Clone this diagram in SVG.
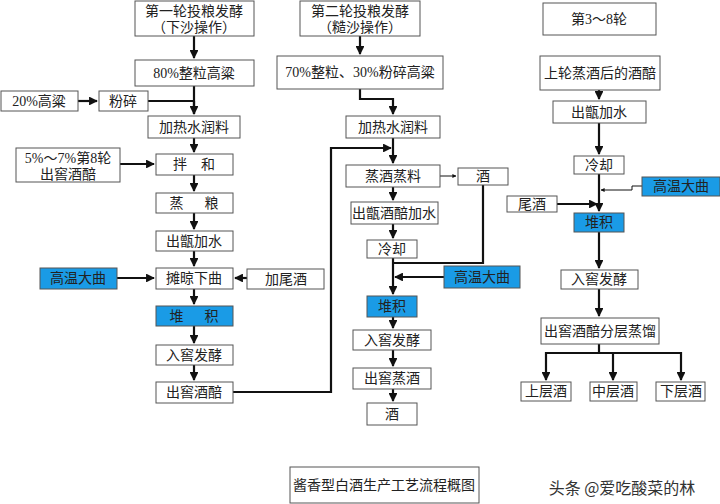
<svg xmlns="http://www.w3.org/2000/svg" width="720" height="504" viewBox="0 0 720 504">
<defs>
<style>
.b rect{fill:#fff;stroke:#555;stroke-width:1}
.q rect{fill:#1a9be6;stroke:#555;stroke-width:1}
text{font-family:"Liberation Serif","Noto Sans CJK SC",serif;font-size:14px;fill:#222;text-anchor:middle;dominant-baseline:central}
.c path{fill:none;stroke:#111;stroke-width:2.2}
.c .t{stroke-width:1}
</style>
<marker id="a" viewBox="0 0 10 10" refX="9" refY="5" markerWidth="4" markerHeight="4" orient="auto"><path d="M0,0L10,5L0,10z" fill="#111"/></marker>
</defs>
<g class="c">
<path d="M194,36V58" marker-end="url(#a)"/>
<path d="M78,101H97" marker-end="url(#a)"/>
<path d="M194,86V114"/><path d="M148,101H194"/>
<path d="M194,101V114" marker-end="url(#a)"/>
<path d="M194,138V152" marker-end="url(#a)"/>
<path d="M120,164H154" marker-end="url(#a)"/>
<path d="M194,175V191" marker-end="url(#a)"/>
<path d="M194,213V229" marker-end="url(#a)"/>
<path d="M194,251V266" marker-end="url(#a)"/>
<path d="M117,278H154" marker-end="url(#a)"/>
<path d="M247,278H235" marker-end="url(#a)"/>
<path d="M194,289V304" marker-end="url(#a)"/>
<path d="M194,326V343" marker-end="url(#a)"/>
<path d="M194,365V380" marker-end="url(#a)"/>
<path d="M233,392H331V148H391" marker-end="url(#a)"/>
<path d="M360,36V54" marker-end="url(#a)"/>
<path d="M360,89V99H393V114" marker-end="url(#a)"/>
<path d="M393,138V163" marker-end="url(#a)"/>
<path class="t" d="M440,176H456" marker-end="url(#a)"/>
<path d="M393,187V200" marker-end="url(#a)"/>
<path d="M393,224V238" marker-end="url(#a)"/>
<path d="M483,185V263H393"/>
<path d="M393,258V294" marker-end="url(#a)"/>
<path d="M444,277H395" marker-end="url(#a)"/>
<path d="M393,317V328" marker-end="url(#a)"/>
<path d="M393,350V366" marker-end="url(#a)"/>
<path d="M393,389V401" marker-end="url(#a)"/>
<path d="M599,90V99" marker-end="url(#a)"/>
<path d="M599,123V154" marker-end="url(#a)"/>
<path d="M599,174V211" marker-end="url(#a)"/>
<path class="t" d="M642,186H632V190H601" marker-end="url(#a)"/>
<path d="M557,204H597" marker-end="url(#a)"/>
<path d="M599,232V268" marker-end="url(#a)"/>
<path d="M599,289V316" marker-end="url(#a)"/>
<path d="M599,344V353"/>
<path d="M546,353H681"/>
<path d="M546,352V380" marker-end="url(#a)"/>
<path d="M613,353V380" marker-end="url(#a)"/>
<path d="M681,352V380" marker-end="url(#a)"/>
</g>
<g id="n1" class="b"><rect x="135" y="1" width="119" height="35"/><text x="194" y="11">第一轮投粮发酵</text><text x="194" y="27">（下沙操作）</text></g>
<g id="n2" class="b"><rect x="135" y="60" width="119" height="26"/><text x="194" y="73">80%整粒高粱</text></g>
<g id="n3" class="b"><rect x="1" y="91" width="77" height="20"/><text x="39" y="101">20%高粱</text></g>
<g id="n4" class="b"><rect x="99" y="91" width="49" height="20"/><text x="123" y="101">粉碎</text></g>
<g id="n5" class="b"><rect x="148" y="116" width="92" height="22"/><text x="194" y="127">加热水润料</text></g>
<g id="n6" class="b"><rect x="16" y="148" width="104" height="34"/><text x="68" y="158">5%～7%第8轮</text><text x="68" y="174">出窖酒醅</text></g>
<g id="n7" class="b"><rect x="156" y="154" width="77" height="21"/><text x="194" y="164.5" xml:space="preserve">拌    和</text></g>
<g id="n8" class="b"><rect x="156" y="193" width="77" height="20"/><text x="194" y="203" xml:space="preserve">蒸      粮</text></g>
<g id="n9" class="b"><rect x="156" y="231" width="77" height="20"/><text x="194" y="241">出甑加水</text></g>
<g id="n10" class="b"><rect x="156" y="268" width="77" height="21"/><text x="194" y="278.5">摊晾下曲</text></g>
<g id="n11" class="q"><rect x="40" y="268" width="77" height="21"/><text x="78" y="278.5">高温大曲</text></g>
<g id="n12" class="b"><rect x="247" y="269" width="77" height="20"/><text x="286" y="279">加尾酒</text></g>
<g id="n13" class="q"><rect x="156" y="306" width="77" height="20"/><text x="194" y="316" xml:space="preserve">堆      积</text></g>
<g id="n14" class="b"><rect x="156" y="345" width="77" height="20"/><text x="194" y="355">入窖发酵</text></g>
<g id="n15" class="b"><rect x="156" y="382" width="77" height="21"/><text x="194" y="392.5">出窖酒醅</text></g>
<g id="m1" class="b"><rect x="300" y="1" width="120" height="35"/><text x="360" y="11">第二轮投粮发酵</text><text x="360" y="27">（糙沙操作）</text></g>
<g id="m2" class="b"><rect x="277" y="56" width="166" height="33"/><text x="360" y="72.5">70%整粒、30%粉碎高粱</text></g>
<g id="m3" class="b"><rect x="346" y="116" width="94" height="22"/><text x="393" y="127">加热水润料</text></g>
<g id="m4" class="b"><rect x="346" y="165" width="94" height="22"/><text x="393" y="176">蒸酒蒸料</text></g>
<g id="m5" class="b"><rect x="458" y="168" width="50" height="17"/><text x="483" y="176.5">酒</text></g>
<g id="m6" class="b"><rect x="351" y="202" width="87" height="22"/><text x="394" y="213">出甑酒醅加水</text></g>
<g id="m7" class="b"><rect x="367" y="240" width="50" height="18"/><text x="392" y="249">冷却</text></g>
<g id="m8" class="q"><rect x="444" y="266" width="76" height="22"/><text x="482" y="277">高温大曲</text></g>
<g id="m9" class="q"><rect x="367" y="296" width="50" height="21"/><text x="392" y="306.5">堆积</text></g>
<g id="m10" class="b"><rect x="353" y="330" width="78" height="20"/><text x="392" y="340">入窖发酵</text></g>
<g id="m11" class="b"><rect x="353" y="368" width="78" height="21"/><text x="392" y="378.5">出窖蒸酒</text></g>
<g id="m12" class="b"><rect x="367" y="403" width="50" height="22"/><text x="392" y="414">酒</text></g>
<g id="r1" class="b"><rect x="543" y="3" width="113" height="32"/><text x="599" y="19">第3～8轮</text></g>
<g id="r2" class="b"><rect x="540" y="56" width="120" height="34"/><text x="600" y="73">上轮蒸酒后的酒醅</text></g>
<g id="r3" class="b"><rect x="553" y="101" width="93" height="22"/><text x="599" y="112">出甑加水</text></g>
<g id="r4" class="b"><rect x="574" y="156" width="50" height="18"/><text x="599" y="165">冷却</text></g>
<g id="r5" class="q"><rect x="642" y="177" width="78" height="19"/><text x="681" y="186.5">高温大曲</text></g>
<g id="r6" class="b"><rect x="507" y="196" width="50" height="16"/><text x="532" y="204">尾酒</text></g>
<g id="r7" class="q"><rect x="574" y="213" width="50" height="19"/><text x="599" y="222.5">堆积</text></g>
<g id="r8" class="b"><rect x="561" y="270" width="77" height="19"/><text x="599" y="279.5">入窖发酵</text></g>
<g id="r9" class="b"><rect x="541" y="318" width="118" height="26"/><text x="600" y="331">出窖酒醅分层蒸馏</text></g>
<g id="r10" class="b"><rect x="521" y="382" width="50" height="19"/><text x="546" y="391.5">上层酒</text></g>
<g id="r11" class="b"><rect x="590" y="382" width="47" height="19"/><text x="613" y="391.5">中层酒</text></g>
<g id="r12" class="b"><rect x="656" y="382" width="49" height="19"/><text x="681" y="391.5">下层酒</text></g>
<g id="title" class="b"><rect x="290" y="467" width="189" height="36"/><text x="384" y="485">酱香型白酒生产工艺流程概图</text></g>
<text x="622" y="487" style="font-family:'Noto Sans CJK SC',sans-serif;font-size:16px;fill:#333">头条 @爱吃酸菜的林</text>
</svg>
